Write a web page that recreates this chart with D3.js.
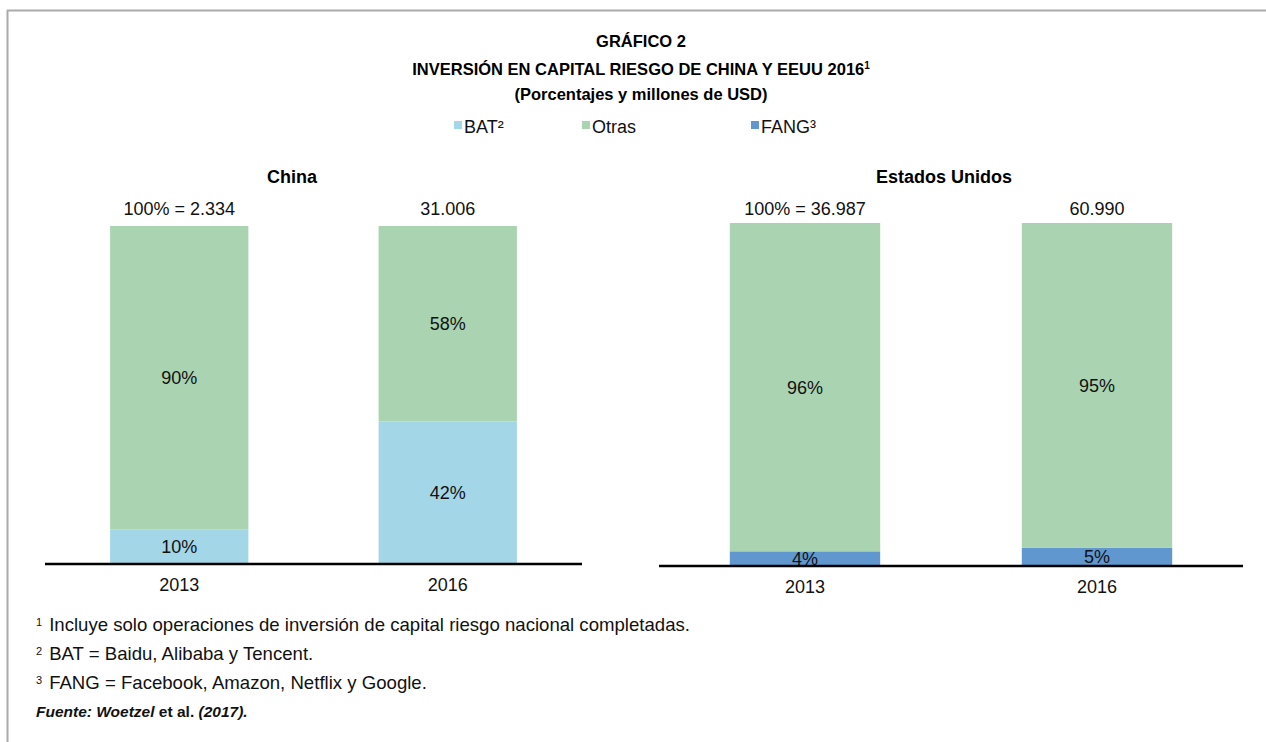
<!DOCTYPE html>
<html>
<head>
<meta charset="utf-8">
<script src="https://cdn.jsdelivr.net/npm/d3@7"></script>
<style>
  body { margin: 0; background: #fff; }
  svg { display: block; font-family: "Liberation Sans", Arial, Helvetica, sans-serif; }
</style>
</head>
<body>
<svg width="1266" height="742"></svg>
<script>
// data
const years = ["2013", "2016"];
const chinaBAT = [10, 42];
const chinaOtras = [90, 58];
const chinaTotal = [2334, 31006];
const usFANG = [4, 5];
const usOtras = [96, 95];
const usTotal = [36987, 60990];

const seriesNames = ["BAT²", "Otras", "FANG³"];
const seriesColors = ["#a3d6e7", "#aad4b1", "#6197cf"];

const footnotes = [
  ["1", "Incluye solo operaciones de inversión de capital riesgo nacional completadas."],
  ["2", "BAT = Baidu, Alibaba y Tencent."],
  ["3", "FANG = Facebook, Amazon, Netflix y Google."]
];

const es = d3.formatLocale({decimal: ",", thousands: ".", grouping: [3], currency: ["", ""]});
const fmt = es.format(",d");

let svg = d3.select("svg");

// frame lines (top + left)
svg.append("line").attr("x1", 7).attr("x2", 1266).attr("y1", 10.5).attr("y2", 10.5)
  .style("stroke", "#aaa").style("stroke-width", 2);
svg.append("line").attr("x1", 7.5).attr("x2", 7.5).attr("y1", 10).attr("y2", 742)
  .style("stroke", "#aaa").style("stroke-width", 2);

// titles
svg.append("text").attr("x", 641).attr("y", 47).attr("text-anchor", "middle")
  .style("font-weight", "bold").style("font-size", "16.5px").text("GRÁFICO 2");
let t2 = svg.append("text").attr("x", 641).attr("y", 75).attr("text-anchor", "middle")
  .style("font-weight", "bold").style("font-size", "16.5px");
t2.append("tspan").text("INVERSIÓN EN CAPITAL RIESGO DE CHINA Y EEUU 2016");
t2.append("tspan").attr("dy", -6).style("font-size", "10px").text("1");
svg.append("text").attr("x", 641).attr("y", 100).attr("text-anchor", "middle")
  .style("font-weight", "bold").style("font-size", "16.5px").text("(Porcentajes y millones de USD)");

// legend
let legX = [454, 582, 751];
let leg = svg.append("g").selectAll("g")
  .data(seriesNames)
  .join("g")
  .attr("transform", (d, i) => "translate(" + legX[i] + ",121)");
leg.append("rect").attr("width", 8).attr("height", 8).style("fill", (d, i) => seriesColors[i]);
leg.append("text").attr("x", 10).attr("y", 12).style("font-size", "18px").style("fill", "#111").text(d => d);

// one panel per country
function panel(opts) {
  let x = d3.scaleBand().domain(years).range(opts.xr).paddingInner(0.485).paddingOuter(0.2425);
  let y = d3.scaleLinear().domain([0, 100]).range(opts.yr);
  let g = svg.append("g");

  let rows = years.map((yr, i) => ({year: yr, low: opts.low[i], high: opts.high[i]}));
  let stack = d3.stack().keys(["low", "high"])(rows);

  g.selectAll("g.layer")
    .data(stack)
    .join("g")
    .attr("class", "layer")
    .style("fill", (d, i) => i == 0 ? opts.lowColor : seriesColors[1])
    .selectAll("rect")
    .data(d => d)
    .join("rect")
    .attr("x", d => x(d.data.year))
    .attr("width", x.bandwidth())
    .attr("y", d => y(d[1]))
    .attr("height", d => y(d[0]) - y(d[1]));

  // segment labels
  g.selectAll("g.lab")
    .data(stack)
    .join("g")
    .attr("class", "lab")
    .selectAll("text")
    .data(d => d)
    .join("text")
    .attr("x", d => x(d.data.year) + x.bandwidth() / 2)
    .attr("y", d => (y(d[0]) + y(d[1])) / 2 + 6.5)
    .attr("text-anchor", "middle")
    .style("font-size", "18px")
    .style("fill", "#111")
    .text(d => (d[1] - d[0]) + "%");

  // totals on top
  g.selectAll("text.tot")
    .data(years)
    .join("text")
    .attr("class", "tot")
    .attr("x", d => x(d) + x.bandwidth() / 2)
    .attr("y", 215)
    .attr("text-anchor", "middle")
    .style("font-size", "18px")
    .style("fill", "#111")
    .text((d, i) => (i == 0 ? "100% = " : "") + fmt(opts.total[i]));

  // panel title
  g.append("text")
    .attr("x", opts.titleX)
    .attr("y", 183)
    .attr("text-anchor", "middle")
    .style("font-weight", "bold")
    .style("font-size", "18px")
    .text(opts.title);

  // axis
  let ax = g.append("g").attr("transform", "translate(0," + (y(0) + 1) + ")")
    .call(d3.axisBottom(x).tickSize(0).tickPadding(14));
  ax.select(".domain").attr("d", "M" + opts.xr[0] + ",0H" + opts.xr[1])
    .style("stroke", "#000").style("stroke-width", 2.5);
  ax.selectAll("text").style("font-size", "18px").style("font-family", "inherit").style("fill", "#111");
}

panel({title: "China", titleX: 292, xr: [45, 582], yr: [563, 226],
  low: chinaBAT, high: chinaOtras, total: chinaTotal, lowColor: seriesColors[0]});
panel({title: "Estados Unidos", titleX: 944, xr: [659, 1243], yr: [565, 223],
  low: usFANG, high: usOtras, total: usTotal, lowColor: seriesColors[2]});

// footnotes
let fn = svg.append("g").selectAll("text")
  .data(footnotes)
  .join("text")
  .attr("x", 36)
  .attr("y", (d, i) => 631 + i * 29)
  .style("font-size", "18.6px")
  .style("fill", "#111");
fn.append("tspan").attr("dy", -5).style("font-size", "11px").text(d => d[0]);
fn.append("tspan").attr("dx", 7).attr("dy", 5).text(d => d[1]);

let src = svg.append("text").attr("x", 36).attr("y", 717)
  .style("font-size", "15.5px").style("font-weight", "bold").style("fill", "#111");
src.append("tspan").style("font-style", "italic").text("Fuente: Woetzel");
src.append("tspan").text(" et al. ");
src.append("tspan").style("font-style", "italic").text("(2017).");
</script>
</body>
</html>
